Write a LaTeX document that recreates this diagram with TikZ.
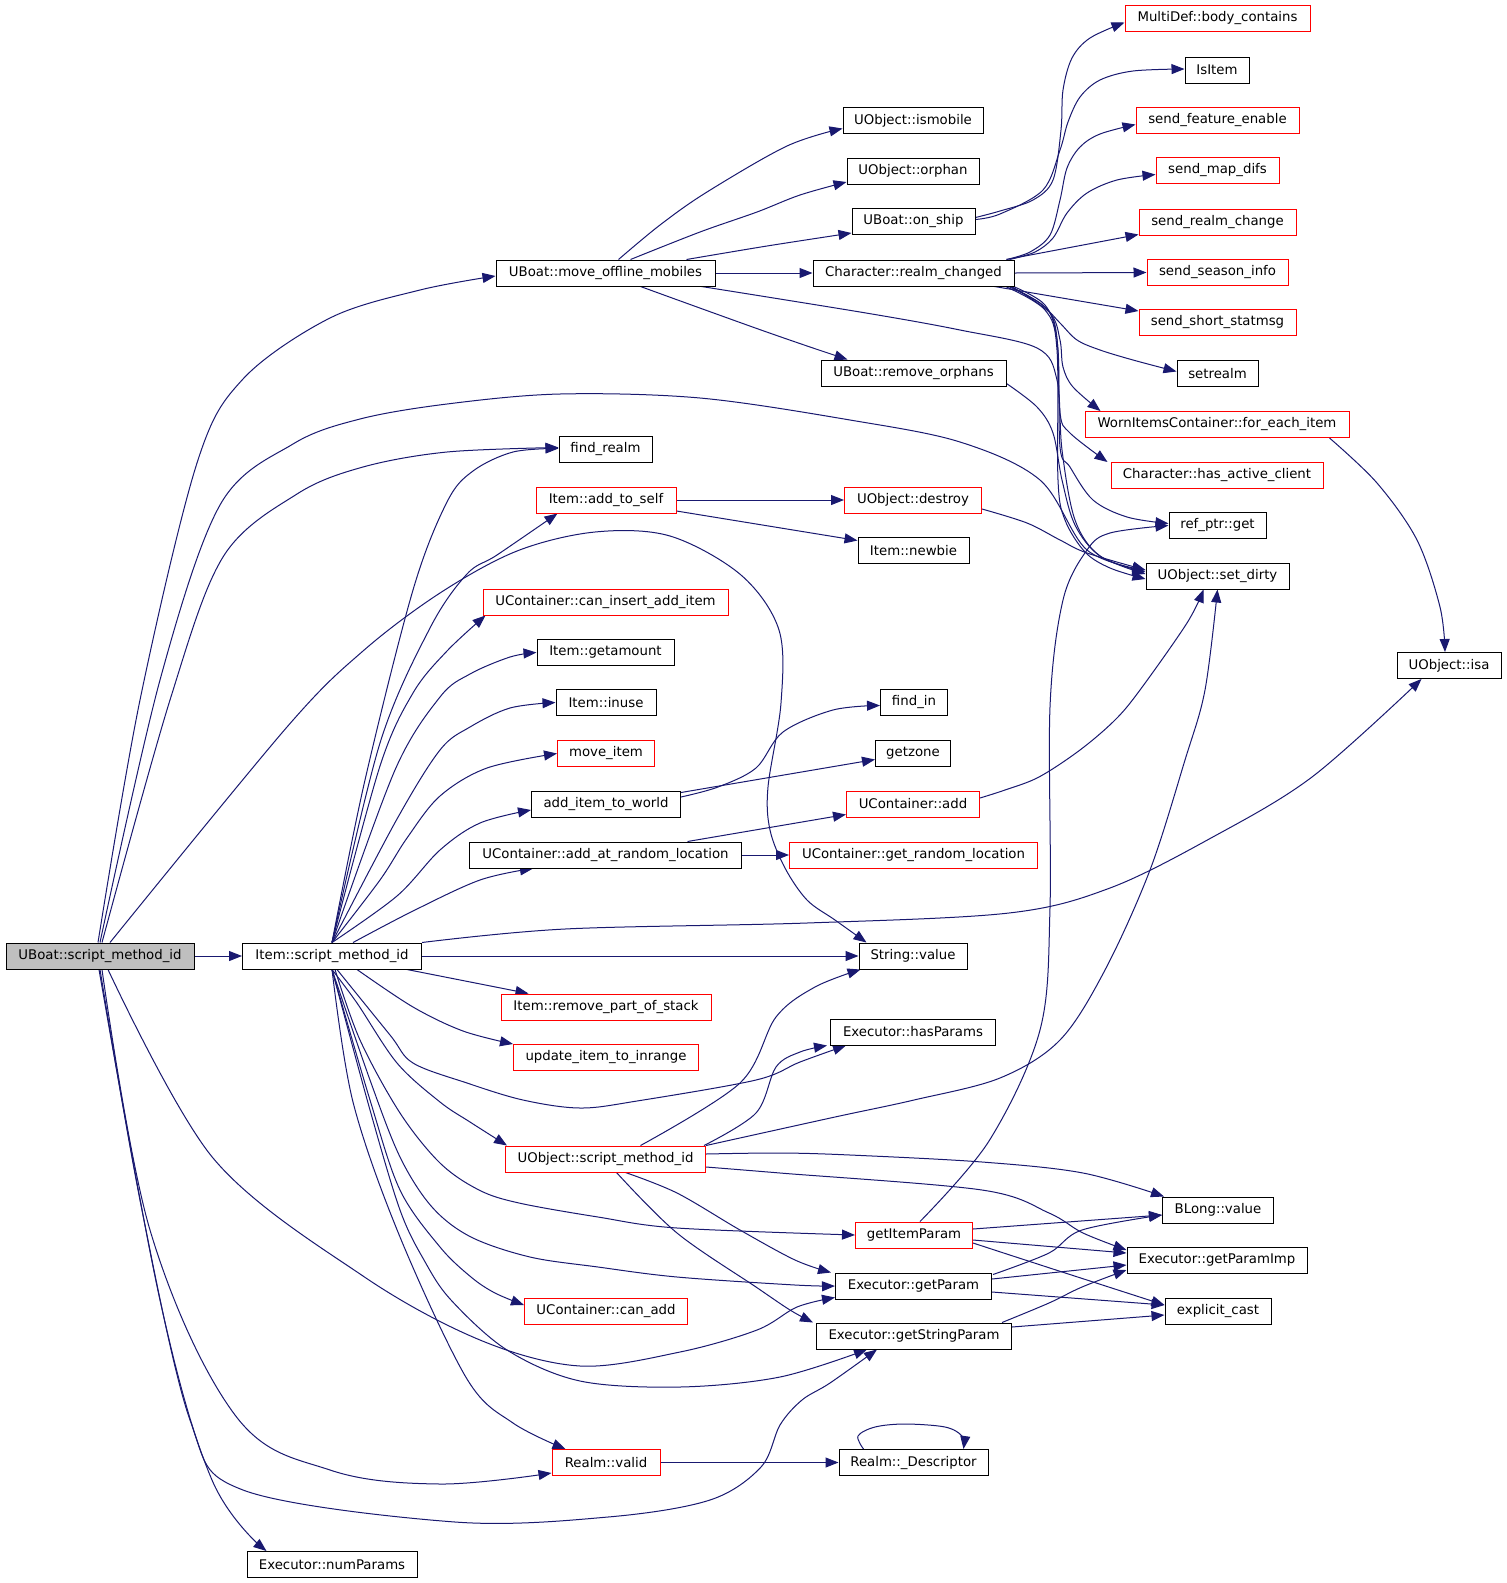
\documentclass[tikz,border=0pt]{standalone}
\usepackage{fontspec}
\setmainfont{DejaVu Sans}
\usetikzlibrary{arrows.meta,calc,backgrounds}
\definecolor{edgec}{HTML}{191970}
\definecolor{redc}{HTML}{FF0000}
\definecolor{sgray}{HTML}{BFBFBF}
\begin{document}
\begin{tikzpicture}[x=1pt,y=-1pt,
  font=\fontsize{13.3}{16}\selectfont,
  box/.style={draw=black,fill=white,line width=1pt,minimum height=26pt,inner sep=0pt},
  rbox/.style={box,draw=redc},
  cl/.style={draw=edgec,line width=1pt,-{Triangle[length=13pt,width=10pt]}}]
\useasboundingbox (0,0) rectangle (1507,1583);
% ---- nodes
\node[box,minimum width=188,fill=sgray] (S) at (100,956) {UBoat::script\_method\_id};
\node[box,minimum width=179] (I) at (332,956) {Item::script\_method\_id};
\node[box,minimum width=219] (MOM) at (605.5,273) {UBoat::move\_offline\_mobiles};
\node[box,minimum width=201] (RC) at (913.5,273) {Character::realm\_changed};
\node[box,minimum width=140] (ISM) at (913,120.5) {UObject::ismobile};
\node[box,minimum width=132] (ORP) at (913,171) {UObject::orphan};
\node[box,minimum width=123] (ONS) at (913.5,221.5) {UBoat::on\_ship};
\node[box,minimum width=185] (RO) at (913.5,373) {UBoat::remove\_orphans};
\node[box,minimum width=93] (FR) at (605.5,449.5) {find\_realm};
\node[rbox,minimum width=140] (AS) at (606,500) {Item::add\_to\_self};
\node[rbox,minimum width=137] (DES) at (913,500) {UObject::destroy};
\node[box,minimum width=111] (NB) at (913.5,550.5) {Item::newbie};
\node[rbox,minimum width=245] (CIAI) at (605.5,602) {UContainer::can\_insert\_add\_item};
\node[box,minimum width=137] (GA) at (605.5,652.5) {Item::getamount};
\node[box,minimum width=100] (IU) at (606,702.5) {Item::inuse};
\node[rbox,minimum width=97] (MI) at (606,753.5) {move\_item};
\node[box,minimum width=149] (AIW) at (606,804) {add\_item\_to\_world};
\node[box,minimum width=272] (AARL) at (605.5,855) {UContainer::add\_at\_random\_location};
\node[box,minimum width=67] (FI) at (914,702.5) {find\_in};
\node[box,minimum width=75] (GZ) at (913,753.5) {getzone};
\node[rbox,minimum width=133] (UCA) at (913,804) {UContainer::add};
\node[rbox,minimum width=248] (GRL) at (913.5,855) {UContainer::get\_random\_location};
\node[box,minimum width=108] (SV) at (913,956) {String::value};
\node[rbox,minimum width=210] (RPS) at (606,1007) {Item::remove\_part\_of\_stack};
\node[rbox,minimum width=185] (UITI) at (606,1057.5) {update\_item\_to\_inrange};
\node[box,minimum width=165] (HP) at (913,1032) {Executor::hasParams};
\node[rbox,minimum width=200] (UOSMI) at (605.5,1159) {UObject::script\_method\_id};
\node[rbox,minimum width=117] (GIP) at (914,1235) {getItemParam};
\node[box,minimum width=156] (GP) at (913.5,1286) {Executor::getParam};
\node[rbox,minimum width=163] (CA) at (606,1311) {UContainer::can\_add};
\node[box,minimum width=195] (GSP) at (914,1336) {Executor::getStringParam};
\node[rbox,minimum width=108] (RV) at (606,1462.5) {Realm::valid};
\node[box,minimum width=149] (DES2) at (913.5,1462.5) {Realm::\_Descriptor};
\node[box,minimum width=170] (NP) at (332,1564.5) {Executor::numParams};
\node[rbox,minimum width=185] (MD) at (1217.5,18.5) {MultiDef::body\_contains};
\node[box,minimum width=64] (ISI) at (1217,70) {IsItem};
\node[rbox,minimum width=163] (SFE) at (1217.5,120.5) {send\_feature\_enable};
\node[rbox,minimum width=123] (SMD) at (1217.5,170.5) {send\_map\_difs};
\node[rbox,minimum width=157] (SRC) at (1217.5,222) {send\_realm\_change};
\node[rbox,minimum width=141] (SSI) at (1217.5,272.5) {send\_season\_info};
\node[rbox,minimum width=157] (SSS) at (1217.5,322.5) {send\_short\_statmsg};
\node[box,minimum width=81] (SR) at (1217.5,373.5) {setrealm};
\node[rbox,minimum width=264] (WIC) at (1217,424.5) {WornItemsContainer::for\_each\_item};
\node[rbox,minimum width=212] (HAC) at (1217,475.5) {Character::has\_active\_client};
\node[box,minimum width=97] (RPG) at (1217.5,525.5) {ref\_ptr::get};
\node[box,minimum width=143] (SD) at (1217.5,576) {UObject::set\_dirty};
\node[box,minimum width=104] (ISA) at (1449,665.5) {UObject::isa};
\node[box,minimum width=111] (BL) at (1218,1210) {BLong::value};
\node[box,minimum width=180] (GPI) at (1217,1260) {Executor::getParamImp};
\node[box,minimum width=106] (EC) at (1218,1311) {explicit\_cast};
% ---- edges
\begin{scope}[on background layer]
\fill[white] (0,0) rectangle (1507,1583);
% from UBoat::script_method_id
\draw[cl] (S) -- (I);
\draw[cl] plot[smooth,tension=.55] coordinates {($(S.north)+(-2,0)$) (140,700) (197,463) (243,379) (330,318) (420,290) ($(MOM.west)+(0,3)$)};
\draw[cl] plot[smooth,tension=.55] coordinates {(S.north) (160,680) (220,505) (293,444) (360,419) (447,404) (560,394) (700,398) (850,420) (960,442) (1040,480) (1087,550) ($(SD.west)+(0,-6)$)};
\draw[cl] plot[smooth,tension=.55] coordinates {($(S.north)+(2,0)$) (170,700) (223,557) (297,494) (363,467) (447,452) ($(FR.west)+(0,-2)$)};
\draw[cl] plot[smooth,tension=.55] coordinates {($(S.north)+(10,0)$) (287,727) (363,651) (440,593) (517,551) (595,532) (670,536) (741,575) (779,630) (781,703) (768,787) (770,830) (785,868) (807,900) (835,920) ($(SV.north west)+(8,0)$)};
\draw[cl] plot[smooth,tension=.55] coordinates {($(S.south)+(8,0)$) (213,1158) (363,1276) (480,1340) (580,1366) (680,1352) (757,1330) (797,1307) ($(GP.south west)+(0,-2)$)};
\draw[cl] plot[smooth,tension=.6] coordinates {($(S.south)+(2,0)$) (150,1230) (235,1415) (330,1470) (440,1484) ($(RV.south west)+(0,-3)$)};
\draw[cl] plot[smooth,tension=.55] coordinates {(S.south) (140,1200) (190,1420) (243,1490) (455,1522) (608,1517) (710,1500) (761,1467) (780,1425) (802,1400) (830,1383) ($(GSP.south)+(-37,0)$)};
\draw[cl] plot[smooth,tension=.6] coordinates {($(S.south)+(-1,0)$) (160,1300) (212,1480) ($(NP.north west)+(20,0)$)};
% from Item::script_method_id
\draw[cl] plot[smooth,tension=.55] coordinates {(I.north) (365,780) (413,590) (447,502) (473,471) (513,452) ($(FR.west)+(0,-1)$)};
\draw[cl] plot[smooth,tension=.55] coordinates {(I.north) (380,743) (430,628) (467,574) (497,555) ($(AS.south west)+(22,0)$)};
\draw[cl] plot[smooth,tension=.55] coordinates {(I.north) (380,766) (413,693) (447,651) ($(CIAI.south west)+(3,0)$)};
\draw[cl] plot[smooth,tension=.55] coordinates {(I.north) (395,770) (440,697) (470,674) (510,657) (GA.west)};
\draw[cl] plot[smooth,tension=.55] coordinates {(I.north) (397,819) (440,750) (470,727) (510,708) (IU.west)};
\draw[cl] plot[smooth,tension=.55] coordinates {(I.north) (380,880) (407,838) (440,796) (487,768) (MI.west)};
\draw[cl] plot[smooth,tension=.55] coordinates {(I.north) (397,896) (440,850) (480,823) ($(AIW.west)+(0,6)$)};
\draw[cl] plot[smooth,tension=.55] coordinates {($(I.north)+(21,0)$) (413,911) (480,880) ($(AARL.south west)+(64,0)$)};
\draw[cl] plot[smooth,tension=.55] coordinates {(I.north east) (565,929) (807,923) (1009,913) (1110,888) (1211,838) (1312,777) ($(ISA.south west)+(25,0)$)};
\draw[cl] (I) -- (SV);
\draw[cl] ($(I.south east)+(-15,0)$) -- ($(RPS.north west)+(28,0)$);
\draw[cl] plot[smooth,tension=.55] coordinates {($(I.south)+(25,0)$) (413,1007) (463,1031) (UITI.north west)};
\draw[cl] plot[smooth,tension=.55] coordinates {($(I.south)+(5,0)$) (390,1035) (413,1063) (467,1083) (523,1100) (580,1108) (637,1101) (756,1080) (800,1062) ($(HP.south west)+(16,0)$)};
\draw[cl] plot[smooth,tension=.55] coordinates {(I.south) (357,1003) (397,1063) (440,1102) (470,1122) ($(UOSMI.north west)+(2,0)$)};
\draw[cl] plot[smooth,tension=.55] coordinates {($(I.south)+(3,0)$) (360,1040) (400,1113) (440,1163) (479,1190) (519,1203) (598,1217) (677,1228) (GIP.west)};
\draw[cl] plot[smooth,tension=.55] coordinates {(I.south) (370,1080) (400,1157) (432,1207) (471,1237) (530,1257) (598,1267) (677,1277) (795,1285) (GP.west)};
\draw[cl] plot[smooth,tension=.55] coordinates {(I.south) (370,1100) (400,1190) (440,1247) (471,1277) (495,1293) ($(CA.west)+(0,-6)$)};
\draw[cl] plot[smooth,tension=.55] coordinates {(I.south) (370,1110) (400,1210) (424,1260) (451,1300) (507,1350) (580,1381) (680,1387) (780,1377) ($(GSP.south)+(-47,0)$)};
\draw[cl] plot[smooth,tension=.55] coordinates {(I.south) (353,1102) (400,1237) (467,1379) (513,1423) ($(RV.north west)+(14,0)$)};
% from UBoat::move_offline_mobiles
\draw[cl] plot[smooth,tension=.55] coordinates {($(MOM.north)+(13,0)$) (660,225) (707,192) (787,146) ($(ISM.west)+(0,8)$)};
\draw[cl] plot[smooth,tension=.55] coordinates {($(MOM.north)+(25,0)$) (700,232) (757,212) (800,195) ($(ORP.west)+(0,11)$)};
\draw[cl] plot[smooth,tension=.55] coordinates {($(MOM.north east)+(-29,0)$) (767,246) ($(ONS.south west)+(0,-2)$)};
\draw[cl] (MOM) -- (RC);
\draw[cl] plot[smooth,tension=.55] coordinates {($(MOM.south)+(35,0)$) (697,307) (761,330) (810,347) ($(RO.north west)+(27,0)$)};
\draw[cl] plot[smooth,tension=.55] coordinates {($(MOM.south east)+(-14,0)$) (866,313) (960,330) (1037,348) (1057,380) (1062,450) (1075,520) (1100,556) ($(SD.west)+(0,-4)$)};
% from UBoat::on_ship
\draw[cl] plot[smooth,tension=.55] coordinates {($(ONS.east)+(0,-4)$) (1000,211) (1033,200) (1053,180) (1061,130) (1063,90) (1072,58) (1090,38) ($(MD.west)+(0,4)$)};
\draw[cl] plot[smooth,tension=.55] coordinates {($(ONS.east)+(0,-2)$) (1000,214) (1043,190) (1060,150) (1068,122) (1080,97) (1100,80) (1133,71) ($(ISI.west)+(0,-1)$)};
% from Character::realm_changed
\draw[cl] plot[smooth,tension=.55] coordinates {($(RC.north east)+(-8,0)$) (1030,252) (1050,235) (1060,200) (1067,168) (1080,147) (1100,134) ($(SFE.west)+(0,4)$)};
\draw[cl] plot[smooth,tension=.55] coordinates {($(RC.north east)+(-5,0)$) (1035,252) (1053,238) (1067,213) (1087,193) (1117,180) ($(SMD.west)+(0,4)$)};
\draw[cl] ($(RC.north east)+(-8,0)$) -- ($(SRC.south west)+(0,-1)$);
\draw[cl] (RC.east) -- (SSI.west);
\draw[cl] ($(RC.south east)+(-20,0)$) -- ($(SSS.north west)+(0,2)$);
\draw[cl] plot[smooth,tension=.55] coordinates {($(RC.south east)+(-4,0)$) (1040,303) (1060,323) (1077,340) (1100,350) (1133,360) ($(SR.west)+(0,-2)$)};
\draw[cl] plot[smooth,tension=.55] coordinates {($(RC.south east)+(-3,0)$) (1050,313) (1060,340) (1063,367) (1073,387) ($(WIC.north west)+(16,0)$)};
\draw[cl] plot[smooth,tension=.55] coordinates {($(RC.south east)+(-1,0)$) (1045,305) (1057,340) (1060,413) (1070,433) ($(HAC.north west)+(-3,0)$)};
\draw[cl] plot[smooth,tension=.55] coordinates {($(RC.south east)+(-6,0)$) (1048,310) (1058,350) (1060,447) (1070,467) (1093,500) (1127,517) ($(RPG.west)+(0,-2)$)};
\draw[cl] plot[smooth,tension=.55] coordinates {($(RC.south east)+(-9,0)$) (1045,310) (1057,350) (1058,480) (1065,520) (1085,552) (1110,568) ($(SD.west)+(0,3)$)};
% others
\draw[cl] plot[smooth,tension=.55] coordinates {($(WIC.south east)+(-20,0)$) (1377,483) (1417,540) (1440,607) ($(ISA.north)+(-4,0)$)};
\draw[cl] plot[smooth,tension=.55] coordinates {($(RO.south east)+(0,-3)$) (1037,407) (1053,433) (1062,480) (1075,525) (1100,556) ($(SD.west)+(0,-2)$)};
\draw[cl] plot[smooth,tension=.55] coordinates {($(DES.east)+(0,9)$) (1027,523) (1060,540) (1087,553) ($(SD.west)+(0,-6)$)};
\draw[cl] plot[smooth,tension=.55] coordinates {($(UCA.east)+(0,-6)$) (1005,790) (1039,777) (1080,750) (1115,720) (1140,690) (1187,623) ($(SD.south)+(-14,0)$)};
\draw[cl] plot[smooth,tension=.55] coordinates {(UOSMI.north east) (835,1117) (914,1100) (1000,1078) (1060,1040) (1105,970) (1150,870) (1185,760) (1205,690) (SD.south)};
\draw[cl] (AS) -- (DES);
\draw[cl] ($(AS.east)+(0,11)$) -- ($(NB.west)+(0,-10)$);
\draw[cl] plot[smooth,tension=.55] coordinates {($(AIW.east)+(0,-7)$) (718,787) (756,768) (783,732) (833,710) ($(FI.west)+(0,3)$)};
\draw[cl] ($(AIW.north east)+(0,2)$) -- ($(GZ.west)+(0,6)$);
\draw[cl] ($(AARL.north)+(82,0)$) -- ($(UCA.south west)+(0,-3)$);
\draw[cl] (AARL) -- (GRL);
\draw[cl] plot[smooth,tension=.55] coordinates {($(UOSMI.north)+(35,0)$) (740,1083) (776,1017) (815,987) ($(SV.south west)+(2,0)$)};
\draw[cl] plot[smooth,tension=.55] coordinates {($(UOSMI.north east)+(-2,0)$) (756,1113) (776,1067) (800,1052) ($(HP.south west)+(-3,0)$)};
\draw[cl] plot[smooth,tension=.55] coordinates {($(UOSMI.east)+(0,-5)$) (780,1153) (850,1155) (982,1162) (1083,1173) ($(BL.north west)+(2,0)$)};
\draw[cl] plot[smooth,tension=.55] coordinates {($(UOSMI.east)+(0,8)$) (780,1173) (982,1190) (1049,1213) (1083,1233) ($(GPI.west)+(0,-10)$)};
\draw[cl] plot[smooth,tension=.55] coordinates {($(UOSMI.south)+(20,0)$) (677,1193) (740,1230) (795,1260) ($(GP.north west)+(-4,0)$)};
\draw[cl] plot[smooth,tension=.55] coordinates {($(UOSMI.south)+(11,0)$) (677,1233) (756,1287) (790,1310) ($(GSP.north west)+(-3,0)$)};
\draw[cl] plot[smooth,tension=.55] coordinates {($(GIP.north)+(6,0)$) (989,1141) (1040,1030) (1050,908) (1050,707) (1063,600) (1087,550) (1110,533) (RPG.west)};
\draw[cl] ($(GIP.east)+(0,-6)$) -- ($(BL.west)+(0,5)$);
\draw[cl] ($(GIP.east)+(0,5)$) -- ($(GPI.west)+(0,-7)$);
\draw[cl] plot[smooth,tension=.55] coordinates {($(GIP.east)+(0,8)$) (1056,1270) ($(EC.west)+(0,-6)$)};
\draw[cl] plot[smooth,tension=.55] coordinates {($(GP.north east)+(1,2)$) (1049,1253) (1082,1230) ($(BL.west)+(0,5)$)};
\draw[cl] ($(GP.east)+(0,-7)$) -- ($(GPI.west)+(0,5)$);
\draw[cl] ($(GP.east)+(0,6)$) -- ($(EC.west)+(0,-6)$);
\draw[cl] plot[smooth,tension=.55] coordinates {($(GSP.north east)+(-10,0)$) (1049,1303) (1082,1287) ($(GPI.west)+(0,10)$)};
\draw[cl] ($(GSP.east)+(0,-9)$) -- ($(EC.west)+(0,4)$);
\draw[cl] (RV) -- (DES2);
\draw[cl] plot[smooth,tension=.55] coordinates {($(DES2.north)+(-50,0)$) (858,1436) (875,1427) (905,1424) (945,1427) (962,1436) ($(DES2.north)+(50,0)$)};
\end{scope}
\end{tikzpicture}
\end{document}
